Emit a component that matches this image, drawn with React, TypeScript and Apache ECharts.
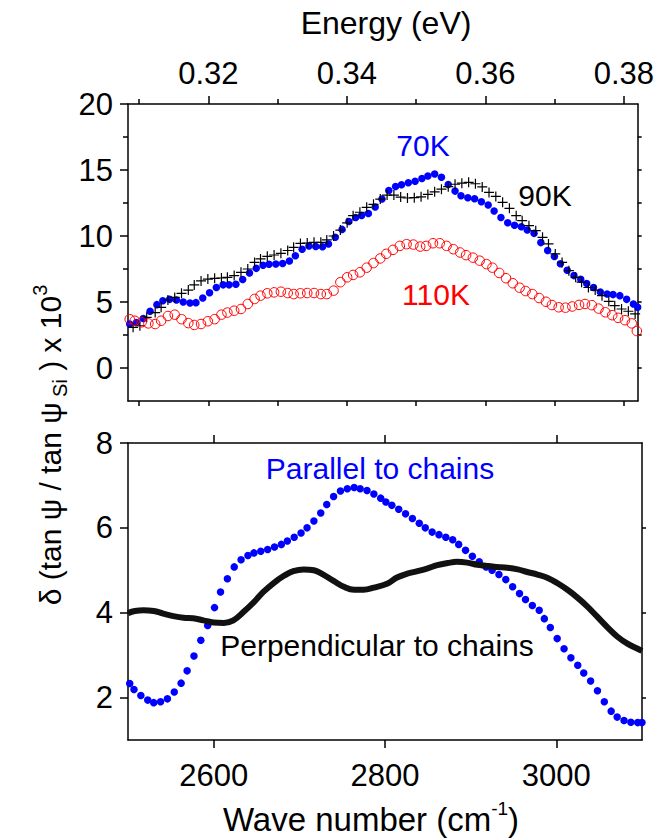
import React, { useEffect, useRef } from "react";
import * as echarts from "echarts";

// ---------- data ----------
const wn70 = [2502, 2510, 2518, 2526, 2534, 2541, 2549, 2557, 2565, 2573, 2580, 2588, 2596, 2604, 2612, 2619, 2627, 2635, 2643, 2651, 2659, 2666, 2674, 2682, 2690, 2697, 2705, 2713, 2721, 2729, 2736, 2744, 2752, 2760, 2768, 2775, 2783, 2791, 2799, 2807, 2815, 2822, 2830, 2838, 2846, 2853, 2861, 2869, 2877, 2885, 2892, 2900, 2908, 2916, 2924, 2931, 2939, 2947, 2955, 2963, 2970, 2978, 2986, 2994, 3002, 3009, 3017, 3025, 3033, 3040, 3048, 3056, 3064, 3071, 3079, 3087, 3095, 3100];
const val70 = [3.33, 3.45, 3.75, 4.3, 4.8, 5.1, 5.2, 5.15, 5.0, 4.92, 4.95, 5.3, 5.7, 6.1, 6.3, 6.3, 6.35, 6.7, 7.2, 7.55, 7.78, 7.86, 7.88, 7.92, 8.1, 8.5, 9.0, 9.25, 9.2, 9.18, 9.4, 9.9, 10.5, 11.1, 11.4, 11.55, 11.7, 12.2, 12.8, 13.45, 13.75, 13.88, 14.03, 14.15, 14.35, 14.55, 14.7, 14.45, 13.9, 13.4, 13.05, 12.9, 12.82, 12.6, 12.35, 11.9, 11.4, 11.0, 10.82, 10.7, 10.45, 10.2, 9.5, 8.9, 8.45, 7.9, 7.4, 7.0, 6.72, 6.4, 6.1, 5.75, 5.6, 5.56, 5.48, 5.2, 4.85, 4.6];

const wn90 = [2506, 2514, 2522, 2532, 2539, 2547, 2555, 2563, 2571, 2578, 2586, 2594, 2602, 2610, 2617, 2625, 2633, 2641, 2649, 2656, 2664, 2672, 2680, 2688, 2695, 2703, 2711, 2719, 2727, 2734, 2742, 2750, 2758, 2765, 2773, 2781, 2789, 2797, 2805, 2813, 2821, 2829, 2837, 2845, 2853, 2861, 2869, 2877, 2885, 2893, 2901, 2909, 2917, 2925, 2933, 2941, 2949, 2957, 2964, 2972, 2980, 2988, 2995, 3003, 3011, 3019, 3027, 3034, 3042, 3050, 3058, 3066, 3073, 3081, 3089, 3097];
const val90 = [3.08, 3.2, 3.84, 4.2, 4.6, 5.15, 5.35, 5.66, 5.9, 6.29, 6.6, 6.74, 6.79, 6.82, 6.87, 7.0, 7.25, 7.5, 8.0, 8.26, 8.46, 8.56, 8.69, 8.9, 9.14, 9.44, 9.47, 9.52, 9.52, 9.7, 10.0, 10.45, 11.0, 11.54, 11.8, 12.17, 12.4, 12.8, 13.1, 13.1, 12.95, 12.88, 12.9, 12.97, 13.15, 13.35, 13.55, 13.74, 13.92, 14.0, 14.07, 13.96, 13.72, 13.3, 13.0, 12.55, 12.1, 11.54, 11.16, 10.78, 10.4, 9.9, 9.4, 8.64, 8.0, 7.37, 6.87, 6.5, 6.1, 5.9, 5.48, 5.05, 4.72, 4.47, 4.3, 4.1];

const wn110 = [2502, 2508, 2516, 2524, 2532, 2539, 2547, 2555, 2563, 2571, 2578, 2586, 2594, 2602, 2610, 2617, 2625, 2633, 2641, 2649, 2656, 2664, 2672, 2680, 2688, 2695, 2703, 2711, 2719, 2727, 2734, 2742, 2750, 2758, 2765, 2773, 2781, 2789, 2797, 2804, 2812, 2820, 2828, 2836, 2844, 2851, 2859, 2867, 2875, 2883, 2891, 2898, 2906, 2914, 2922, 2929, 2937, 2945, 2953, 2961, 2968, 2976, 2984, 2992, 2999, 3007, 3015, 3023, 3031, 3038, 3046, 3054, 3062, 3070, 3077, 3085, 3093, 3099];
const val110 = [3.7, 3.58, 3.46, 3.38, 3.33, 3.58, 3.94, 4.04, 3.7, 3.4, 3.26, 3.33, 3.54, 3.7, 4.04, 4.2, 4.34, 4.47, 4.85, 5.23, 5.48, 5.66, 5.73, 5.78, 5.68, 5.6, 5.66, 5.68, 5.68, 5.6, 5.6, 5.86, 6.5, 6.87, 7.05, 7.25, 7.6, 7.95, 8.3, 8.65, 8.95, 9.25, 9.38, 9.35, 9.2, 9.25, 9.45, 9.45, 9.25, 9.0, 8.75, 8.55, 8.36, 8.13, 7.87, 7.6, 7.2, 6.8, 6.42, 6.08, 5.83, 5.6, 5.3, 5.02, 4.77, 4.6, 4.57, 4.66, 4.78, 4.85, 4.76, 4.5, 4.22, 4.0, 3.8, 3.62, 3.38, 2.8];

const wnPar = [2502, 2507, 2515, 2523, 2530, 2538, 2546, 2554, 2562, 2569, 2577, 2585, 2593, 2601, 2608, 2616, 2624, 2632, 2640, 2647, 2655, 2663, 2671, 2679, 2686, 2694, 2702, 2709, 2717, 2725, 2732, 2740, 2748, 2756, 2764, 2771, 2779, 2787, 2795, 2801, 2808, 2816, 2824, 2832, 2840, 2847, 2855, 2863, 2871, 2879, 2886, 2894, 2902, 2910, 2918, 2925, 2933, 2941, 2949, 2957, 2964, 2972, 2980, 2986, 2993, 3001, 3009, 3017, 3025, 3032, 3040, 3048, 3056, 3064, 3071, 3079, 3087, 3095, 3100];
const valPar = [2.33, 2.19, 2.05, 1.94, 1.88, 1.9, 1.97, 2.13, 2.34, 2.63, 2.98, 3.35, 3.7, 4.12, 4.49, 4.8, 5.08, 5.25, 5.35, 5.41, 5.45, 5.49, 5.55, 5.61, 5.69, 5.78, 5.88, 6.0, 6.16, 6.35, 6.55, 6.74, 6.87, 6.92, 6.95, 6.92, 6.88, 6.8, 6.7, 6.61, 6.53, 6.44, 6.33, 6.22, 6.11, 6.0, 5.9, 5.84, 5.78, 5.72, 5.61, 5.47, 5.33, 5.2, 5.08, 5.0, 4.9, 4.78, 4.61, 4.45, 4.31, 4.17, 4.06, 3.86, 3.65, 3.39, 3.15, 2.94, 2.76, 2.58, 2.39, 2.16, 1.9, 1.68, 1.54, 1.46, 1.42, 1.41, 1.41];

const wnPerp = [2500, 2508, 2518, 2530, 2541, 2553, 2565, 2576, 2588, 2600, 2612, 2623, 2635, 2647, 2658, 2670, 2682, 2693, 2705, 2717, 2728, 2740, 2752, 2764, 2775, 2787, 2803, 2814, 2826, 2838, 2849, 2861, 2873, 2884, 2896, 2908, 2920, 2931, 2943, 2955, 2966, 2978, 2990, 3001, 3013, 3025, 3036, 3048, 3060, 3071, 3083, 3095, 3100];
const valPerp = [3.99, 4.04, 4.06, 4.04, 3.98, 3.92, 3.88, 3.87, 3.82, 3.77, 3.76, 3.82, 4.02, 4.25, 4.49, 4.7, 4.87, 4.98, 5.02, 5.0, 4.9, 4.75, 4.61, 4.54, 4.54, 4.59, 4.69, 4.83, 4.92, 4.98, 5.04, 5.12, 5.17, 5.2, 5.18, 5.13, 5.1, 5.08, 5.06, 5.02, 4.96, 4.9, 4.82, 4.7, 4.54, 4.35, 4.15, 3.9, 3.65, 3.44, 3.27, 3.15, 3.1];

const energyMajor = [0.32, 0.34, 0.36, 0.38];
const energyMinor = [0.31, 0.33, 0.35, 0.37];
const energyAll = [0.31, 0.32, 0.33, 0.34, 0.35, 0.36, 0.37, 0.38];
const wnTicks = [2600, 2800, 3000];
const topMajor = [0, 5, 10, 15, 20];
const topMinor = [2.5, 7.5, 12.5, 17.5];
const topAll = [0, 2.5, 5, 7.5, 10, 12.5, 15, 17.5];
const botTicks = [2, 4, 6, 8];
const botRight = [2, 4, 6];

const zip = (xs: number[], ys: number[]) => xs.map((x, i) => [x, ys[i]]);

const FONT = '"Liberation Sans", Arial, sans-serif';
const AX = { lineStyle: { color: "#000", width: 1.5 } };
const TICK_FS = 31;
const NOTE_FS = 30;

export default function App() {
  const ref = useRef<HTMLDivElement>(null);
  useEffect(() => {
    if (!ref.current) return;
    const chart = echarts.init(ref.current, null, { renderer: "svg" });
    const g0 = { left: 128, top: 104, width: 514, height: 297 };
    const g1 = { left: 128, top: 443, width: 514, height: 297 };
    const tickStyle = { color: "#000", width: 1.5 };
    const lbl = { fontSize: TICK_FS, fontFamily: FONT, color: "#000" };
    const option: any = {
      animation: false,
      backgroundColor: "#fff",
      grid: [
        { ...g0, containLabel: false },
        { ...g1, containLabel: false },
      ],
      xAxis: [
        { gridIndex: 0, type: "value", min: 2500, max: 3100, show: false },
        {
          gridIndex: 0, type: "value", position: "top", min: 0.3084, max: 0.382,
          axisLine: { show: true, onZero: false, ...AX },
          axisTick: { show: true, customValues: energyMajor, length: 8, lineStyle: tickStyle },
          axisLabel: { show: true, customValues: energyMajor, ...lbl, margin: 15, formatter: (v: number) => v.toFixed(2) },
          splitLine: { show: false },
        },
        {
          gridIndex: 0, type: "value", position: "top", min: 0.3084, max: 0.382,
          axisLine: { show: false, onZero: false },
          axisTick: { show: true, customValues: energyMinor, length: 5, lineStyle: tickStyle },
          axisLabel: { show: false },
          splitLine: { show: false },
        },
        {
          gridIndex: 0, type: "value", position: "bottom", min: 0.3084, max: 0.382,
          axisLine: { show: true, onZero: false, ...AX },
          axisTick: { show: true, customValues: energyAll, length: 5, lineStyle: tickStyle },
          axisLabel: { show: false },
          splitLine: { show: false },
        },
        {
          gridIndex: 1, type: "value", position: "bottom", min: 2500, max: 3100,
          axisLine: { show: true, onZero: false, ...AX },
          axisTick: { show: true, customValues: wnTicks, length: 8, lineStyle: tickStyle },
          axisLabel: { show: true, customValues: wnTicks, ...lbl, margin: 20, formatter: (v: number) => String(v) },
          splitLine: { show: false },
        },
        {
          gridIndex: 1, type: "value", position: "top", min: 2500, max: 3100,
          axisLine: { show: true, onZero: false, ...AX },
          axisTick: { show: true, customValues: wnTicks, length: 8, lineStyle: tickStyle },
          axisLabel: { show: false },
          splitLine: { show: false },
        },
      ],
      yAxis: [
        {
          gridIndex: 0, type: "value", position: "left", min: -2.5, max: 20,
          axisLine: { show: true, onZero: false, ...AX },
          axisTick: { show: true, customValues: topMajor, length: 8, lineStyle: tickStyle },
          axisLabel: { show: true, customValues: topMajor, ...lbl, margin: 15 },
          splitLine: { show: false },
        },
        {
          gridIndex: 0, type: "value", position: "left", min: -2.5, max: 20,
          axisLine: { show: false, onZero: false },
          axisTick: { show: true, customValues: topMinor, length: 5, lineStyle: tickStyle },
          axisLabel: { show: false },
          splitLine: { show: false },
        },
        {
          gridIndex: 0, type: "value", position: "right", min: -2.5, max: 20,
          axisLine: { show: true, onZero: false, ...AX },
          axisTick: { show: true, customValues: topAll, length: 4, lineStyle: tickStyle },
          axisLabel: { show: false },
          splitLine: { show: false },
        },
        {
          gridIndex: 1, type: "value", position: "left", min: 1, max: 8,
          axisLine: { show: true, onZero: false, ...AX },
          axisTick: { show: true, customValues: botTicks, length: 8, lineStyle: tickStyle },
          axisLabel: { show: true, customValues: botTicks, ...lbl, margin: 15 },
          splitLine: { show: false },
        },
        {
          gridIndex: 1, type: "value", position: "right", min: 1, max: 8,
          axisLine: { show: true, onZero: false, ...AX },
          axisTick: { show: true, customValues: botRight, length: 4, lineStyle: tickStyle },
          axisLabel: { show: false },
          splitLine: { show: false },
        },
      ],
      series: [
        {
          name: "70K", type: "scatter", xAxisIndex: 0, yAxisIndex: 0,
          data: zip(wn70, val70), symbol: "circle", symbolSize: 7.5,
          itemStyle: { color: "#0000ff", opacity: 1 },
        },
        {
          name: "90K", type: "scatter", xAxisIndex: 0, yAxisIndex: 0,
          data: zip(wn90, val90), symbol: "path://M0,5L10,5M5,0L5,10", symbolSize: 10,
          itemStyle: { color: "rgba(0,0,0,0)", borderColor: "#000", borderWidth: 1.2, opacity: 1 },
        },
        {
          name: "110K", type: "scatter", xAxisIndex: 0, yAxisIndex: 0,
          data: zip(wn110, val110), symbol: "circle", symbolSize: 9.5,
          itemStyle: { color: "rgba(0,0,0,0)", borderColor: "#ff0000", borderWidth: 1, opacity: 1 },
        },
        {
          name: "Perpendicular", type: "line", xAxisIndex: 4, yAxisIndex: 3,
          data: zip(wnPerp, valPerp), symbol: "none", smooth: 0.4,
          lineStyle: { color: "#111", width: 6 },
        },
        {
          name: "Parallel", type: "scatter", xAxisIndex: 4, yAxisIndex: 3,
          data: zip(wnPar, valPar), symbol: "circle", symbolSize: 7.5,
          itemStyle: { color: "#0000ff", opacity: 1 },
        },
      ],
      graphic: [
        {
          type: "text", x: 386, y: 23,
          style: { text: "Energy (eV)", fontSize: 32, fontFamily: FONT, fill: "#000", align: "center", verticalAlign: "middle" },
        },
        {
          type: "text", x: 371, y: 819,
          style: {
            text: "{a|Wave number (cm}{s|-1}{a|)}", fontFamily: FONT, fill: "#000", align: "center", verticalAlign: "middle",
            rich: {
              a: { fontSize: 33, fontFamily: FONT, lineHeight: 40, verticalAlign: "middle" },
              s: { fontSize: 19, fontFamily: FONT, lineHeight: 20, verticalAlign: "top" },
            },
          },
        },
        {
          type: "text", x: 50, y: 445, rotation: Math.PI / 2,
          style: {
            text: "{a|δ (tan ψ / tan ψ}{b| Si}{a| ) x 10}{c|3}", fontFamily: FONT, fill: "#000", align: "center", verticalAlign: "middle",
            rich: {
              a: { fontSize: 30, fontFamily: FONT, lineHeight: 40, verticalAlign: "middle" },
              b: { fontSize: 20, fontFamily: FONT, lineHeight: 20, verticalAlign: "bottom" },
              c: { fontSize: 20, fontFamily: FONT, lineHeight: 20, verticalAlign: "top" },
            },
          },
        },
        { type: "text", x: 423, y: 145, style: { text: "70K", fontSize: NOTE_FS, fontFamily: FONT, fill: "#0000ff", align: "center", verticalAlign: "middle" } },
        { type: "text", x: 545, y: 195, style: { text: "90K", fontSize: NOTE_FS, fontFamily: FONT, fill: "#000", align: "center", verticalAlign: "middle" } },
        { type: "text", x: 436, y: 294, style: { text: "110K", fontSize: NOTE_FS, fontFamily: FONT, fill: "#ff0000", align: "center", verticalAlign: "middle" } },
        { type: "text", x: 380, y: 468, style: { text: "Parallel to chains", fontSize: NOTE_FS, fontFamily: FONT, fill: "#0000ff", align: "center", verticalAlign: "middle" } },
        { type: "text", x: 377, y: 645, style: { text: "Perpendicular to chains", fontSize: NOTE_FS, fontFamily: FONT, fill: "#000", align: "center", verticalAlign: "middle" } },
      ],
    };
    chart.setOption(option);
    return () => chart.dispose();
  }, []);
  return (
    <div
      ref={ref}
      style={{ position: "fixed", left: 0, top: 0, width: 657, height: 840, background: "#fff" }}
    />
  );
}
